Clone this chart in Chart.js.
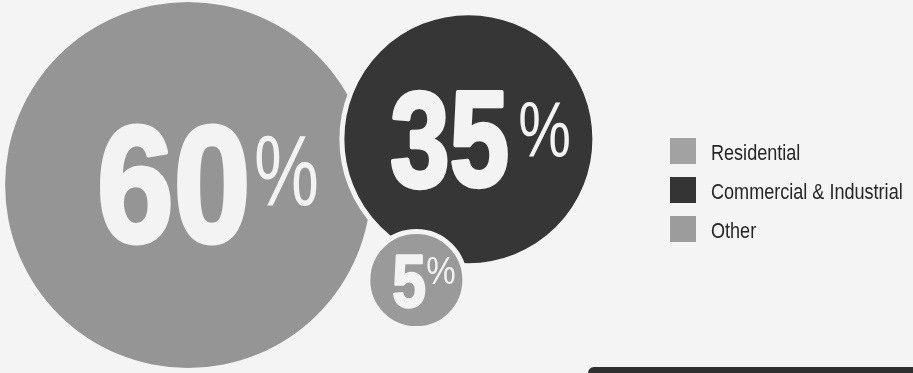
<!DOCTYPE html>
<html>
<head>
<meta charset="utf-8">
<script src="https://cdn.jsdelivr.net/npm/chart.js@4.4.1/dist/chart.umd.min.js"></script>
<style>
  html, body { margin: 0; padding: 0; background: #f4f4f4; }
  #wrap { width: 913px; height: 373px; }
</style>
</head>
<body>
<div id="wrap"><canvas id="c" width="913" height="373"></canvas></div>
<script>
// ---- data ----
const categories = ['Residential', 'Commercial & Industrial', 'Other'];
const shares = [60, 35, 5];
// bubble centre positions (in a 0-100 abstract unit space) and fill radii (px)
const bubbleX = [20.6, 51.3, 45.6];
const bubbleY = [50.4, 62.7, 24.9];
const bubbleR = [183, 124, 46];

// ---- styles ----
const colors = ['#959595', '#363636', '#9a9a9a'];
const legendColors = ['#a2a2a2', '#343434', '#9c9c9c'];
const ringWidth = [0, 5, 5];
const drawOrder = [3, 2, 1];
const labelStyle = [
  { size: 166, sx: 0.83, stroke: 4,   dx: -91, dy: 56, pSize: 100, psx: 0.73, pdx: 66, pdy: 20 },
  { size: 135, sx: 0.79, stroke: 3.5, dx: -78, dy: 47, pSize: 78,  psx: 0.76, pdx: 50, pdy: 17.5 },
  { size: 75,  sx: 0.81, stroke: 2,   dx: -24, dy: 27, pSize: 38,  psx: 0.87, pdx: 10, pdy: 4.3 }
];

function condensedText(ctx, text, x, y, sx, stroke) {
  ctx.save();
  ctx.translate(x, y);
  ctx.scale(sx, 1);
  ctx.fillText(text, 0, 0);
  if (stroke) { ctx.lineWidth = stroke / sx; ctx.lineJoin = 'round'; ctx.strokeText(text, 0, 0); }
  ctx.restore();
}

const backgroundPlugin = {
  id: 'bg',
  beforeDraw(chart) {
    const ctx = chart.ctx;
    ctx.save();
    ctx.fillStyle = '#f4f4f4';
    ctx.fillRect(0, 0, chart.width, chart.height);
    // cropped dark bar at the bottom right of the page
    ctx.fillStyle = '#2f2f2f';
    ctx.beginPath();
    ctx.roundRect(588, 367, chart.width - 588 + 10, 20, 6);
    ctx.fill();
    ctx.restore();
  }
};

const labelPlugin = {
  id: 'bubbleLabels',
  afterDatasetsDraw(chart) {
    const ctx = chart.ctx;
    ctx.save();
    ctx.fillStyle = '#f3f3f3';
    ctx.strokeStyle = '#f3f3f3';
    ctx.textAlign = 'left';
    ctx.textBaseline = 'alphabetic';
    chart.data.datasets.forEach((ds, i) => {
      const el = chart.getDatasetMeta(i).data[0];
      const s = labelStyle[i];
      ctx.font = 'bold ' + s.size + 'px "Liberation Sans", Arial, sans-serif';
      condensedText(ctx, String(shares[i]), el.x + s.dx, el.y + s.dy, s.sx, s.stroke);
      ctx.font = s.pSize + 'px "Liberation Sans", Arial, sans-serif';
      condensedText(ctx, '%', el.x + s.pdx, el.y + s.pdy, s.psx, 0);
    });
    ctx.restore();
  }
};

const legendPlugin = {
  id: 'customLegend',
  afterDraw(chart) {
    const ctx = chart.ctx;
    ctx.save();
    const x0 = 670, y0 = 138, box = 26, gap = 39;
    ctx.font = '21.5px "Liberation Sans", Arial, sans-serif';
    ctx.textBaseline = 'alphabetic';
    ctx.textAlign = 'left';
    categories.forEach((name, i) => {
      const y = y0 + i * gap;
      ctx.fillStyle = legendColors[i];
      ctx.fillRect(x0, y, box, box);
      ctx.fillStyle = '#262626';
      condensedText(ctx, name, 711, y + 21.5, 0.84, 0);
    });
    ctx.restore();
  }
};

const datasets = categories.map((name, i) => ({
  label: name,
  data: [{ x: bubbleX[i], y: bubbleY[i], r: bubbleR[i] + ringWidth[i] / 2 }],
  backgroundColor: colors[i],
  borderColor: '#f4f4f4',
  borderWidth: ringWidth[i],
  hoverRadius: 0,
  order: drawOrder[i],
  clip: false
}));

new Chart(document.getElementById('c'), {
  type: 'bubble',
  data: { datasets },
  options: {
    responsive: false,
    animation: false,
    devicePixelRatio: 1,
    events: [],
    layout: { padding: 0, autoPadding: false },
    plugins: { legend: { display: false }, tooltip: { enabled: false } },
    scales: {
      x: { type: 'linear', min: 0, max: 100, display: false },
      y: { type: 'linear', min: 0, max: 100, display: false }
    }
  },
  plugins: [backgroundPlugin, labelPlugin, legendPlugin]
});
</script>
</body>
</html>
